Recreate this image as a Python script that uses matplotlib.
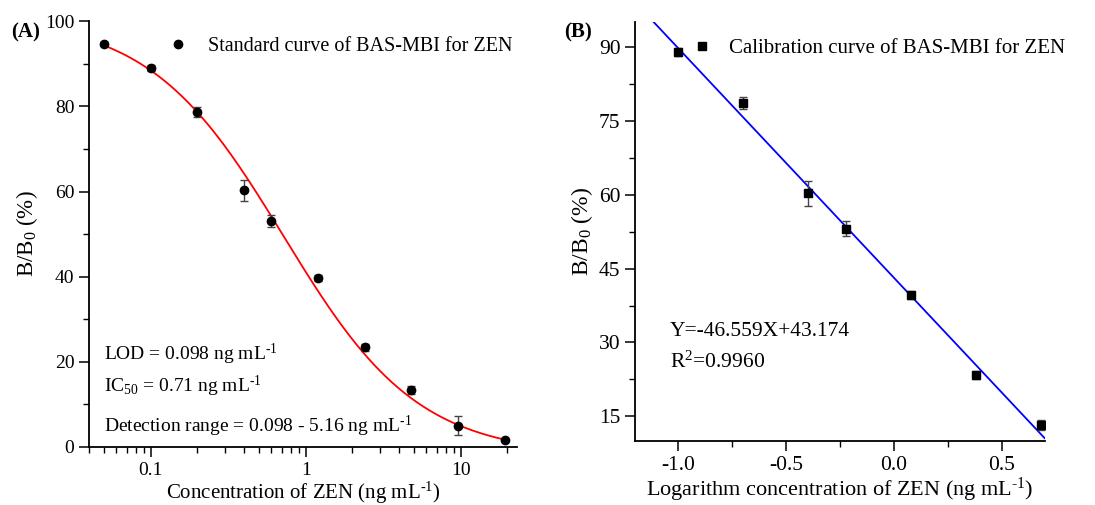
import numpy as np
import matplotlib
matplotlib.use("Agg")
import matplotlib.pyplot as plt
from matplotlib.ticker import MultipleLocator, FormatStrFormatter

# data
conc = [0.05, 0.1, 0.2, 0.4, 0.6, 1.2, 2.4, 4.8, 9.6, 19.2]
ratio = [94.6, 89.0, 78.6, 60.3, 53.1, 39.7, 23.4, 13.4, 5.0, 1.6]
ratio_err = [0.5, 0.8, 1.2, 2.5, 1.5, 0.8, 0.8, 1.0, 2.2, 0.3]

# 4PL fit parameters (top, bottom, IC50, slope)
fit_top, fit_bottom, fit_ic50, fit_slope = 101.0, -2.0, 0.72, 1.0

log_conc = [-1.0, -0.699, -0.398, -0.222, 0.079, 0.380, 0.681]
lin_ratio = [89.0, 78.6, 60.3, 53.1, 39.7, 23.4, 13.3]
lin_err = [0.8, 1.2, 2.5, 1.5, 0.8, 0.8, 1.0]
slope, intercept = -46.559, 43.174

plt.rcParams['font.family'] = ['Liberation Serif', 'DejaVu Serif']
plt.rcParams['mathtext.fontset'] = 'custom'
plt.rcParams['mathtext.rm'] = 'Liberation Serif'
plt.rcParams['mathtext.it'] = 'Liberation Serif:italic'

unit = 'ng mL$^{\\text{-1}}$'

fig = plt.figure(figsize=(10.95, 5.05), dpi=100)
axA = fig.add_axes([0.0813, 0.1149, 0.3907, 0.8431])
axB = fig.add_axes([0.580, 0.1267, 0.374, 0.8293])

def style(ax, lsize):
    for s in ('top', 'right'):
        ax.spines[s].set_visible(False)
    for s in ('left', 'bottom'):
        ax.spines[s].set_linewidth(1.3)
    ax.tick_params(which='major', direction='out', length=7, width=1.1, labelsize=lsize)
    ax.tick_params(which='minor', direction='out', length=4, width=1.0)

### Panel A ###
style(axA, 14)
axA.set_xscale('log')
xs = np.logspace(np.log10(conc[0]), np.log10(conc[-1]), 200)
ys = fit_bottom + (fit_top - fit_bottom) / (1 + (xs / fit_ic50) ** fit_slope)
axA.plot(xs, ys, color='red', lw=1.3, zorder=2)
axA.errorbar(conc, ratio, yerr=ratio_err, fmt='none',
             ecolor='#444444', elinewidth=1.0, capsize=3, capthick=1.0, zorder=3)
axA.plot(conc, ratio, 'o', color='black', ms=6, zorder=4,
         label='Standard curve of BAS-MBI for ZEN')
axA.set_xlim(0.04, 23)
axA.set_ylim(0, 100)
axA.yaxis.set_major_locator(MultipleLocator(20))
axA.yaxis.set_minor_locator(MultipleLocator(10))
axA.set_xticks([0.1, 1, 10])
axA.set_xticklabels(['0.1', '1', '10'])
axA.set_xlabel('Concentration of ZEN (' + unit + ')', fontsize=15, labelpad=1)
axA.set_ylabel('B/B$_0$ (%)', fontsize=16.5, labelpad=4)
axA.legend(loc='upper left', bbox_to_anchor=(0.138, 1.005), frameon=False,
           fontsize=14.5, handletextpad=0.9, handlelength=1.2)
axA.text(0.035, 0.205, 'LOD = 0.098 ' + unit, transform=axA.transAxes, fontsize=14)
axA.text(0.035, 0.13, 'IC$_{50}$ = 0.71 ' + unit, transform=axA.transAxes, fontsize=14)
axA.text(0.035, 0.035, 'Detection range = 0.098 - 5.16 ' + unit, transform=axA.transAxes, fontsize=14)
fig.text(0.010, 0.925, '(A)', fontsize=15, fontweight='bold')

### Panel B ###
style(axB, 15.5)
xl = np.array([-1.2, 0.7])
axB.plot(xl, slope * xl + intercept, color='blue', lw=1.3, zorder=2)
axB.errorbar(log_conc, lin_ratio, yerr=lin_err, fmt='none',
             ecolor='#444444', elinewidth=1.0, capsize=3, capthick=1.0, zorder=3)
axB.plot(log_conc, lin_ratio, 's', color='black', ms=5.5, zorder=4,
         label='Calibration curve of BAS-MBI for ZEN')
axB.set_xlim(-1.2, 0.7)
axB.set_ylim(10, 95)
axB.xaxis.set_major_locator(MultipleLocator(0.5))
axB.xaxis.set_minor_locator(MultipleLocator(0.25))
axB.yaxis.set_major_locator(MultipleLocator(15))
axB.yaxis.set_minor_locator(MultipleLocator(7.5))
axB.xaxis.set_major_formatter(FormatStrFormatter('%.1f'))
axB.set_xlabel('Logarithm concentration of ZEN (' + unit + ')', fontsize=16, labelpad=1)
axB.set_ylabel('B/B$_0$ (%)', fontsize=17, labelpad=3)
axB.legend(loc='upper left', bbox_to_anchor=(0.088, 1.005), frameon=False,
           fontsize=15, handletextpad=0.7, handlelength=1.2)
axB.text(0.085, 0.25, 'Y=-46.559X+43.174', transform=axB.transAxes, fontsize=15.5)
axB.text(0.085, 0.175, 'R$^2$=0.9960', transform=axB.transAxes, fontsize=15.5)
fig.text(0.515, 0.925, '(B)', fontsize=15, fontweight='bold')

fig.savefig('out.png', dpi=100)
